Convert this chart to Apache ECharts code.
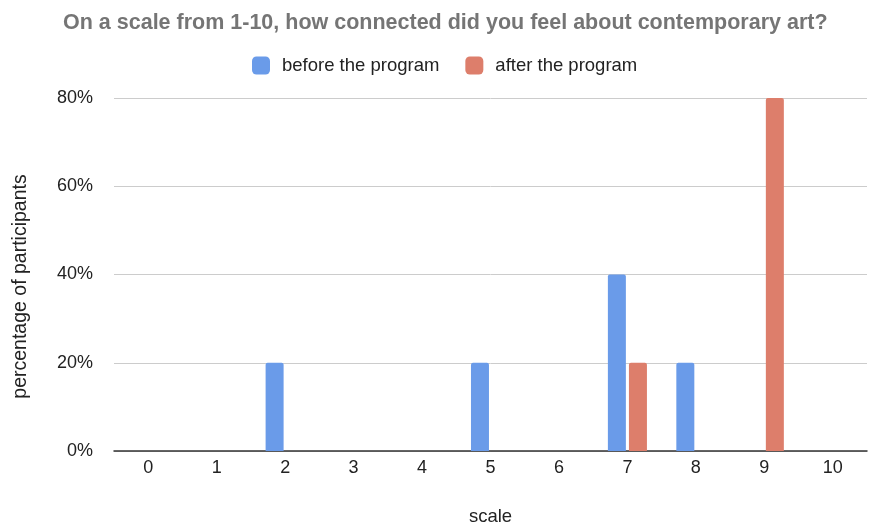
<!DOCTYPE html>
<html>
<head>
<meta charset="utf-8">
<script src="https://cdn.jsdelivr.net/npm/echarts@6/dist/echarts.min.js"></script>
<style>
  html, body { margin: 0; padding: 0; background: #fff; }
  #chart { width: 870px; height: 525px; }
</style>
</head>
<body>
<div id="chart"></div>
<script>
const categories = ['0', '1', '2', '3', '4', '5', '6', '7', '8', '9', '10']
const beforeValues = [0, 0, 20, 0, 0, 20, 0, 40, 20, 0, 0]
const afterValues = [0, 0, 0, 0, 0, 0, 0, 20, 0, 80, 0]

const font = 'Arial, Liberation Sans, Helvetica, sans-serif'
const chart = echarts.init(document.getElementById('chart'))
chart.setOption({
  title: {
    text: 'On a scale from 1-10, how connected did you feel about contemporary art?',
    left: 58,
    top: 7,
    textStyle: { fontFamily: font, fontSize: 21.5, fontWeight: 'bold', color: '#757575' }
  },
  legend: {
    top: 51,
    left: 247,
    itemWidth: 18,
    itemHeight: 18,
    itemGap: 26,
    textStyle: { fontFamily: font, fontSize: 18.5, color: '#222', padding: [0, 0, 0, 7] },
    data: [
      { name: 'before the program', icon: 'roundRect' },
      { name: 'after the program', icon: 'roundRect' }
    ]
  },
  grid: {
    top: 98,
    left: 114,
    right: 3,
    bottom: 74,
    outerBoundsMode: 'none'
  },
  xAxis: {
    type: 'category',
    data: categories,
    name: 'scale',
    nameLocation: 'middle',
    nameGap: 56,
    nameTextStyle: { fontFamily: font, fontSize: 18.5, color: '#222' },
    axisTick: { show: false },
    axisLine: { lineStyle: { color: '#333', width: 1.5 } },
    axisLabel: { fontFamily: font, fontSize: 18, color: '#222', margin: 8 }
  },
  yAxis: {
    type: 'value',
    min: 0,
    max: 80,
    interval: 20,
    name: 'percentage of participants',
    nameLocation: 'middle',
    nameGap: 83,
    nameTextStyle: { fontFamily: font, fontSize: 19.5, color: '#222', padding: [0, 24, 0, 0] },
    axisLabel: {
      fontFamily: font,
      fontSize: 18,
      color: '#222',
      margin: 21,
      formatter: (v) => v + '%'
    },
    axisLine: { show: false },
    axisTick: { show: false },
    splitLine: { lineStyle: { color: '#cccccc' } }
  },
  series: [
    {
      name: 'before the program',
      type: 'bar',
      color: '#6a9be9',
      barWidth: 18,
      barGap: '17%',
      itemStyle: { borderRadius: [2, 2, 0, 0] },
      data: beforeValues
    },
    {
      name: 'after the program',
      type: 'bar',
      color: '#dd7e6b',
      barWidth: 18,
      barGap: '17%',
      itemStyle: { borderRadius: [2, 2, 0, 0] },
      data: afterValues
    }
  ]
})
</script>
</body>
</html>
